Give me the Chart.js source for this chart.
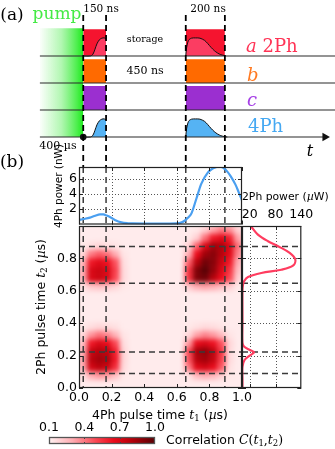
<!DOCTYPE html>
<html>
<head>
<meta charset="utf-8">
<title>Two-photon / four-photon correlation</title>
<script src="https://cdn.jsdelivr.net/npm/chart.js@4.4.1/dist/chart.umd.min.js"></script>
<style>
html, body { margin: 0; padding: 0; background: #fff; }
#fig { position: relative; width: 335px; height: 449px; overflow: hidden; background: #fff; }
#fig canvas { position: absolute; }
#heatClip { position: absolute; left: 79px; top: 226px; width: 163px; height: 162px; overflow: hidden; }
#heatCells { filter: blur(2.6px); }
.txt { position: absolute; white-space: nowrap; line-height: 1; color: #000; }
.c { transform: translate(-50%, -50%); }
.v { transform: translateY(-50%); }
.rot { transform: translate(-50%, -50%) rotate(-90deg); }
.serif { font-family: 'DejaVu Serif', serif; }
.sans { font-family: 'DejaVu Sans', sans-serif; }
.m { font-family: 'DejaVu Serif', serif; font-style: italic; }
.mr { font-family: 'DejaVu Serif', serif; }
.sub { font-family: 'DejaVu Serif', serif; font-size: 0.68em; vertical-align: -0.28em; }
</style>
</head>
<body>
<div id="fig">
  <canvas id="timing" width="335" height="167" style="left:0;top:0"></canvas>
  <div id="heatClip"><canvas id="heatCells" width="183" height="182" style="left:-10px;top:-10px"></canvas></div>
  <canvas id="heat" width="262" height="204" style="left:0;top:206px"></canvas>
  <canvas id="power4" width="262" height="84" style="left:0;top:150px"></canvas>
  <canvas id="power2" width="109" height="210" style="left:226px;top:190px"></canvas>
  <canvas id="cbar" width="130" height="40" style="left:37px;top:409px"></canvas>

  <div class="txt serif c" style="left:12px;top:14px;font-size:17px">(a)</div>
  <div class="txt serif c" style="left:57px;top:13px;font-size:17px;color:#45ea45">pump</div>
  <div class="txt serif c" style="left:101px;top:8px;font-size:10.5px">150 ns</div>
  <div class="txt serif c" style="left:208px;top:8px;font-size:10.5px">200 ns</div>
  <div class="txt serif c" style="left:145px;top:39px;font-size:9.5px">storage</div>
  <div class="txt serif c" style="left:145px;top:70px;font-size:11px">450 ns</div>
  <div class="txt serif c" style="left:58px;top:145px;font-size:11px">400 µs</div>
  <div class="txt serif v" style="left:246px;top:46px;font-size:18px;color:#ff3355"><i>a</i> 2Ph</div>
  <div class="txt serif v" style="left:247px;top:75px;font-size:18px;color:#ff7a22"><i>b</i></div>
  <div class="txt serif v" style="left:247px;top:100px;font-size:18px;color:#a640e6"><i>c</i></div>
  <div class="txt serif v" style="left:248px;top:126px;font-size:18px;color:#45a8f2">4Ph</div>
  <div class="txt serif c" style="left:310px;top:151px;font-size:16px"><i>t</i></div>

  <div class="txt serif c" style="left:12px;top:161px;font-size:17px">(b)</div>
  <div class="txt sans rot" style="left:58px;top:186px;font-size:10.5px">4Ph power (nW)</div>
  <div class="txt sans v" style="left:242px;top:197px;font-size:10.8px">2Ph power (<span class="m">µ</span>W)</div>
  <div class="txt sans rot" style="left:42px;top:307px;font-size:12.5px">2Ph pulse time <span class="m">t</span><span class="sub">2</span> (<span class="m">µ</span>s)</div>
  <div class="txt sans c" style="left:160px;top:416px;font-size:12.5px">4Ph pulse time <span class="m">t</span><span class="sub">1</span> (<span class="m">µ</span>s)</div>
  <div class="txt sans v" style="left:166px;top:441px;font-size:12.5px">Correlation <span class="m">C</span><span class="mr">(</span><span class="m">t</span><span class="sub">1</span><span class="mr">,</span><span class="m">t</span><span class="sub">2</span><span class="mr">)</span></div>
</div>

<script>
// ---------- (a) timing diagram, time in µs on the same axis as t1 ----------
const pumpStart = -0.24;
const gateStart = [0.026, 0.655];
const gateEnd = [0.166, 0.895];
const laneEnd = 1.571;
const axisEnd = 1.509;
const laneA = 3, laneB = 2, laneC = 1, lane4Ph = 0;
// pulse envelopes (height above lane baseline)
const pulse1T = [0.026, 0.07, 0.085, 0.098, 0.11, 0.125, 0.14, 0.155, 0.166];
const pulse1A = [0, 0, 0.06, 0.25, 0.45, 0.6, 0.66, 0.67, 0.63];
const pulse2T = [0.655, 0.66, 0.672, 0.69, 0.715, 0.742, 0.77, 0.79, 0.81, 0.83, 0.85, 0.87, 0.895, 0.91];
const pulse2A = [0, 0.3, 0.58, 0.66, 0.67, 0.66, 0.58, 0.46, 0.32, 0.2, 0.11, 0.05, 0.01, 0];

// ---------- (b) top: 4Ph power (nW) vs t1 ----------
const t1Power = [0, 0.03, 0.067, 0.1, 0.129, 0.15, 0.17, 0.2, 0.22, 0.26, 0.3, 0.33, 0.4, 0.5, 0.6, 0.63, 0.65, 0.67, 0.69, 0.72, 0.75, 0.79, 0.82, 0.845, 0.865, 0.885, 0.91, 0.93, 0.96, 0.98, 1.0];
const power4Ph = [0.6, 0.72, 0.9, 1.15, 1.33, 1.32, 1.16, 0.85, 0.6, 0.27, 0.16, 0.14, 0.12, 0.12, 0.15, 0.28, 0.52, 0.9, 1.45, 3.36, 5.3, 6.76, 7.3, 7.5, 7.55, 7.4, 6.9, 6.3, 5.2, 4.2, 3.15];

// ---------- (b) right: 2Ph power (µW) vs t2 ----------
const t2Power = [0.0, 0.05, 0.13, 0.173, 0.2, 0.221, 0.235, 0.256, 0.28, 0.4, 0.6, 0.638, 0.66, 0.685, 0.71, 0.73, 0.755, 0.793, 0.834, 0.875, 0.906, 0.947, 0.995, 1.0];
const power2Ph = [3, 3, 3, 8, 20, 30, 20, 6.7, 3, 3, 3, 4.3, 7, 16, 47, 93.5, 120.7, 126, 113, 86, 62.5, 39, 23.7, 22];

// ---------- (b) correlation map C(t1, t2), cells of 0.05 µs ----------
const corrBackground = 0.12;
const cellT1 = [0.025, 0.075, 0.125, 0.175, 0.225, 0.275, 0.325, 0.375, 0.425, 0.475, 0.525, 0.575, 0.625, 0.675, 0.725, 0.775, 0.825, 0.875, 0.925, 0.975];
const cellT2 = [0.975, 0.925, 0.875, 0.825, 0.775, 0.725, 0.675, 0.625, 0.575, 0.525, 0.475, 0.425, 0.375, 0.325, 0.275, 0.225, 0.175, 0.125, 0.075, 0.025];
const corrRows = [
  [0.12, 0.12, 0.12, 0.12, 0.12, 0.12, 0.12, 0.12, 0.12, 0.12, 0.12, 0.12, 0.12, 0.12, 0.13, 0.2, 0.32, 0.4, 0.36, 0.2],
  [0.12, 0.12, 0.12, 0.12, 0.12, 0.12, 0.12, 0.12, 0.12, 0.12, 0.12, 0.12, 0.12, 0.13, 0.2, 0.42, 0.62, 0.68, 0.6, 0.32],
  [0.13, 0.16, 0.18, 0.16, 0.14, 0.12, 0.12, 0.12, 0.12, 0.12, 0.12, 0.12, 0.12, 0.2, 0.45, 0.7, 0.85, 0.82, 0.7, 0.42],
  [0.18, 0.4, 0.46, 0.42, 0.3, 0.14, 0.12, 0.12, 0.12, 0.12, 0.12, 0.12, 0.12, 0.3, 0.65, 0.85, 0.9, 0.8, 0.68, 0.38],
  [0.28, 0.62, 0.68, 0.64, 0.48, 0.16, 0.12, 0.12, 0.12, 0.12, 0.12, 0.12, 0.12, 0.45, 0.8, 0.95, 0.9, 0.75, 0.62, 0.3],
  [0.3, 0.7, 0.74, 0.7, 0.52, 0.17, 0.12, 0.12, 0.12, 0.12, 0.12, 0.12, 0.12, 0.55, 0.92, 1.0, 0.88, 0.7, 0.55, 0.25],
  [0.3, 0.7, 0.74, 0.7, 0.5, 0.17, 0.12, 0.12, 0.12, 0.12, 0.12, 0.12, 0.12, 0.55, 0.92, 0.95, 0.8, 0.65, 0.5, 0.2],
  [0.15, 0.22, 0.24, 0.22, 0.18, 0.13, 0.12, 0.12, 0.12, 0.12, 0.12, 0.12, 0.12, 0.22, 0.3, 0.32, 0.3, 0.25, 0.2, 0.13],
  [0.12, 0.12, 0.12, 0.12, 0.12, 0.12, 0.12, 0.12, 0.12, 0.12, 0.12, 0.12, 0.12, 0.12, 0.12, 0.12, 0.12, 0.12, 0.12, 0.12],
  [0.12, 0.12, 0.12, 0.12, 0.12, 0.12, 0.12, 0.12, 0.12, 0.12, 0.12, 0.12, 0.12, 0.12, 0.12, 0.12, 0.12, 0.12, 0.12, 0.12],
  [0.12, 0.12, 0.12, 0.12, 0.12, 0.12, 0.12, 0.12, 0.12, 0.12, 0.12, 0.12, 0.12, 0.12, 0.12, 0.12, 0.12, 0.12, 0.12, 0.12],
  [0.12, 0.12, 0.12, 0.12, 0.12, 0.12, 0.12, 0.12, 0.12, 0.12, 0.12, 0.12, 0.12, 0.12, 0.12, 0.12, 0.12, 0.12, 0.12, 0.12],
  [0.13, 0.16, 0.18, 0.17, 0.15, 0.12, 0.12, 0.12, 0.12, 0.12, 0.12, 0.12, 0.12, 0.13, 0.15, 0.17, 0.16, 0.14, 0.12, 0.12],
  [0.18, 0.35, 0.42, 0.38, 0.28, 0.14, 0.12, 0.12, 0.12, 0.12, 0.12, 0.12, 0.12, 0.18, 0.32, 0.38, 0.34, 0.26, 0.14, 0.12],
  [0.25, 0.62, 0.7, 0.66, 0.5, 0.16, 0.12, 0.12, 0.12, 0.12, 0.12, 0.12, 0.12, 0.34, 0.66, 0.7, 0.64, 0.48, 0.18, 0.12],
  [0.3, 0.75, 0.8, 0.78, 0.6, 0.18, 0.12, 0.12, 0.12, 0.12, 0.12, 0.12, 0.12, 0.5, 0.84, 0.88, 0.78, 0.54, 0.17, 0.12],
  [0.32, 0.78, 0.84, 0.82, 0.62, 0.18, 0.12, 0.12, 0.12, 0.12, 0.12, 0.12, 0.12, 0.48, 0.8, 0.84, 0.76, 0.52, 0.17, 0.12],
  [0.3, 0.72, 0.78, 0.74, 0.56, 0.17, 0.12, 0.12, 0.12, 0.12, 0.12, 0.12, 0.12, 0.4, 0.68, 0.72, 0.66, 0.46, 0.15, 0.12],
  [0.16, 0.3, 0.34, 0.32, 0.24, 0.13, 0.12, 0.12, 0.12, 0.12, 0.12, 0.12, 0.12, 0.15, 0.26, 0.3, 0.27, 0.2, 0.13, 0.12],
  [0.12, 0.12, 0.12, 0.12, 0.12, 0.12, 0.12, 0.12, 0.12, 0.12, 0.12, 0.12, 0.12, 0.12, 0.12, 0.12, 0.12, 0.12, 0.12, 0.12]
];

// marker lines and ticks
const markT1 = [gateStart[0], gateEnd[0], gateStart[1], gateEnd[1]];
const markT2 = [0.874, 0.646, 0.222, 0.089];
const timeTicks = [0, 0.2, 0.4, 0.6, 0.8, 1.0];
const t2Labels = [0, 0.2, 0.4, 0.6, 0.8];
const power4Ticks = [2, 4, 6];
const power2Ticks = [20, 80, 140];
const power2Grid = [20, 80];
const corrTicks = [0.1, 0.4, 0.7, 1.0];

// colour map for C(t1,t2)
const cmapStops = [
  [0.1, [255, 242, 242]],
  [0.3, [255, 172, 178]],
  [0.5, [250, 70, 82]],
  [0.65, [236, 10, 26]],
  [0.8, [182, 0, 10]],
  [1.0, [88, 0, 4]]
];

function corrColor(v) {
  if (v <= cmapStops[0][0]) return 'rgb(' + cmapStops[0][1].join(',') + ')';
  for (let i = 1; i < cmapStops.length; i++) {
    const [v1, c1] = cmapStops[i];
    const [v0, c0] = cmapStops[i - 1];
    if (v <= v1) {
      const f = (v - v0) / (v1 - v0);
      return 'rgb(' + c0.map((c, k) => Math.round(c + (c1[k] - c) * f)).join(',') + ')';
    }
  }
  return 'rgb(' + cmapStops[cmapStops.length - 1][1].join(',') + ')';
}

Chart.defaults.font.family = "'DejaVu Sans', sans-serif";
Chart.defaults.font.size = 12.5;
Chart.defaults.color = '#000';
Chart.defaults.animation = false;
Chart.defaults.responsive = false;
Chart.defaults.devicePixelRatio = 1;
Chart.defaults.events = [];
Chart.defaults.layout.autoPadding = false;
Chart.defaults.plugins.legend.display = false;
Chart.defaults.plugins.tooltip.enabled = false;
Chart.defaults.elements.point.radius = 0;

// ---- drawing helpers ----
function dashLine(ctx, x0, y0, x1, y1, color, width, dash) {
  ctx.save();
  ctx.strokeStyle = color;
  ctx.lineWidth = width;
  ctx.setLineDash(dash);
  ctx.beginPath();
  ctx.moveTo(x0, y0);
  ctx.lineTo(x1, y1);
  ctx.stroke();
  ctx.restore();
}

function frame(chart, color, width) {
  const { ctx, chartArea: a } = chart;
  ctx.save();
  ctx.strokeStyle = color || '#222';
  ctx.lineWidth = width || 1.2;
  ctx.strokeRect(a.left + 0.5, a.top + 0.5, a.width - 1, a.height - 1);
  ctx.restore();
}

function inwardTicks(chart, xVals, yVals, len) {
  const { ctx, chartArea: a, scales: { x, y } } = chart;
  ctx.save();
  ctx.strokeStyle = '#222';
  ctx.lineWidth = 1;
  ctx.beginPath();
  xVals.forEach(v => {
    const px = Math.round(x.getPixelForValue(v)) + 0.5;
    ctx.moveTo(px, a.bottom); ctx.lineTo(px, a.bottom - len);
    ctx.moveTo(px, a.top); ctx.lineTo(px, a.top + len);
  });
  yVals.forEach(v => {
    const py = Math.round(y.getPixelForValue(v)) + 0.5;
    ctx.moveTo(a.left, py); ctx.lineTo(a.left + len, py);
    ctx.moveTo(a.right, py); ctx.lineTo(a.right - len, py);
  });
  ctx.stroke();
  ctx.restore();
}

function dotGrid(chart, xVals, yVals) {
  const { ctx, chartArea: a, scales: { x, y } } = chart;
  ctx.save();
  ctx.strokeStyle = '#555';
  ctx.lineWidth = 1;
  ctx.setLineDash([1, 2]);
  ctx.beginPath();
  xVals.forEach(v => {
    const px = Math.round(x.getPixelForValue(v)) + 0.5;
    ctx.moveTo(px, a.top); ctx.lineTo(px, a.bottom);
  });
  yVals.forEach(v => {
    const py = Math.round(y.getPixelForValue(v)) + 0.5;
    ctx.moveTo(a.left, py); ctx.lineTo(a.right, py);
  });
  ctx.stroke();
  ctx.restore();
}

function markLines(chart, vertical, horizontal) {
  const { ctx, chartArea: a, scales: { x, y } } = chart;
  vertical.forEach(t => {
    const px = x.getPixelForValue(t);
    dashLine(ctx, px, a.top, px, a.bottom, '#3a3a3a', 1.5, [6, 4]);
  });
  horizontal.forEach(t => {
    const py = y.getPixelForValue(t);
    dashLine(ctx, a.left, py, a.right, py, '#3a3a3a', 1.5, [6, 4]);
  });
}

const gridT = timeTicks.filter(v => v > 0 && v < 1);
const fixedTicks = list => scale => { scale.ticks = list.map(v => ({ value: v })); };

// ---------- (a) ----------
function pumpFill(context) {
  const chart = context.chart;
  if (!chart.chartArea) return 'rgba(0,0,0,0)';
  const xs = chart.scales.x;
  const g = chart.ctx.createLinearGradient(xs.getPixelForValue(pumpStart), 0, xs.getPixelForValue(gateStart[0]), 0);
  g.addColorStop(0, 'rgba(60,235,60,0.02)');
  g.addColorStop(0.5, 'rgba(60,235,60,0.4)');
  g.addColorStop(1, 'rgba(30,235,30,1)');
  return g;
}

function box(t0, t1, lane, h, color) {
  return {
    data: [{ x: t0, y: lane + h }, { x: t1, y: lane + h }],
    fill: { target: { value: lane } }, backgroundColor: color, borderWidth: 0, order: 5
  };
}

function pulse(ts, amps, lane, color, tMax) {
  const pts = ts.map((t, i) => ({ x: t, y: lane + amps[i] })).filter(p => p.x <= tMax);
  return {
    data: pts, fill: { target: { value: lane } }, backgroundColor: color,
    borderColor: '#111', borderWidth: 1, tension: 0.3, order: 4
  };
}

function laneLine(t0, t1, lane) {
  return { data: [{ x: t0, y: lane }, { x: t1, y: lane }], borderColor: '#2a2a2a', borderWidth: 1.2, fill: false, order: 3 };
}

const timingSets = [
  { data: [{ x: pumpStart, y: 4.03 }, { x: gateStart[0], y: 4.03 }], fill: { target: { value: lane4Ph } },
    backgroundColor: pumpFill, borderWidth: 0, order: 6 }
];
gateStart.forEach((g, k) => {
  timingSets.push(box(g, gateEnd[k], laneA, 0.99, '#f5142f'));
  timingSets.push(box(g, gateEnd[k], laneB, 0.88, '#ff6a00'));
  timingSets.push(box(g, gateEnd[k], laneC, 0.89, '#9b2fd0'));
});
timingSets.push(pulse(pulse1T, pulse1A, laneA, '#fb3d62', gateEnd[0]));
timingSets.push(pulse(pulse2T, pulse2A, laneA, '#fb3d62', gateEnd[1]));
timingSets.push(pulse(pulse1T, pulse1A, lane4Ph, '#55b3f4', gateEnd[0]));
timingSets.push(pulse(pulse2T, pulse2A, lane4Ph, '#55b3f4', 1));
[laneA, laneB, laneC].forEach(l => timingSets.push(laneLine(pumpStart, laneEnd, l)));
timingSets.push(laneLine(pumpStart, axisEnd, lane4Ph));
timingSets.push({ data: [{ x: axisEnd, y: lane4Ph }], showLine: false, pointStyle: 'triangle', pointRotation: 90,
  pointRadius: 5, pointBackgroundColor: '#111', pointBorderWidth: 0, order: 1 });
timingSets.push({ data: [{ x: gateStart[0], y: lane4Ph }], showLine: false, pointRadius: 3.3,
  pointBackgroundColor: '#111', pointBorderWidth: 0, order: 1 });

new Chart(document.getElementById('timing'), {
  type: 'line',
  data: { datasets: timingSets },
  options: {
    layout: { padding: 0 },
    scales: {
      x: { type: 'linear', min: -0.4847, max: 1.5706, display: false },
      y: { type: 'linear', min: -1.111, max: 5.074, display: false }
    }
  },
  plugins: [{
    id: 'gateMarks',
    afterDatasetsDraw(chart) {
      const { ctx, scales: { x, y } } = chart;
      const top = y.getPixelForValue(4.52);
      markT1.forEach(t => {
        const px = x.getPixelForValue(t);
        dashLine(ctx, px, top, px, chart.height, '#000', 1.8, [6, 4]);
      });
    }
  }]
});

// ---------- (b) correlation map: cells (softened canvas) ----------
const heatCells = [];
corrRows.forEach((row, j) => row.forEach((v, i) => heatCells.push({ x: cellT1[i], y: cellT2[j], v: v })));

function cellRadius(chart) {
  if (!chart.chartArea) return 5;
  const xs = chart.scales.x, ys = chart.scales.y;
  const w = Math.abs(xs.getPixelForValue(cellT1[1]) - xs.getPixelForValue(cellT1[0]));
  const h = Math.abs(ys.getPixelForValue(cellT2[0]) - ys.getPixelForValue(cellT2[1]));
  return Math.max(w, h) * Math.SQRT1_2 + 0.3;
}

new Chart(document.getElementById('heatCells'), {
  type: 'scatter',
  data: {
    datasets: [{
      data: heatCells,
      pointStyle: 'rect',
      pointRadius: ctx => cellRadius(ctx.chart),
      pointBackgroundColor: ctx => ctx.raw ? corrColor(ctx.raw.v) : '#fff',
      pointBorderWidth: 0,
      clip: false
    }]
  },
  options: {
    layout: { padding: 0 },
    scales: {
      // 10 px margin around the plot area so the softening does not fade the edges
      x: { type: 'linear', min: -10 / 163, max: 1 + 10 / 163, display: false },
      y: { type: 'linear', min: -10 / 162, max: 1 + 10 / 162, display: false }
    }
  },
  plugins: [{
    id: 'heatBackground',
    beforeDatasetsDraw(chart) {
      chart.ctx.save();
      chart.ctx.fillStyle = corrColor(corrBackground);
      chart.ctx.fillRect(0, 0, chart.width, chart.height);
      chart.ctx.restore();
    }
  }]
});

// ---------- (b) correlation map: axes ----------
new Chart(document.getElementById('heat'), {
  type: 'scatter',
  data: { datasets: [] },
  options: {
    layout: { padding: { left: 0, right: 20, top: 20, bottom: 0 } },
    scales: {
      x: {
        type: 'linear', min: 0, max: 1,
        grid: { display: false, drawTicks: false }, border: { display: false },
        afterFit: s => { s.height = 22; },
        afterBuildTicks: fixedTicks(timeTicks),
        ticks: { padding: 2.5, maxRotation: 0, autoSkip: false, callback: v => v.toFixed(1) }
      },
      y: {
        type: 'linear', min: 0, max: 1,
        grid: { display: false, drawTicks: false }, border: { display: false },
        afterFit: s => { s.width = 79; },
        afterBuildTicks: fixedTicks(t2Labels),
        ticks: { padding: 2, autoSkip: false, callback: v => v.toFixed(1) }
      }
    }
  },
  plugins: [{
    id: 'heatDecor',
    afterDraw(chart) {
      markLines(chart, markT1, markT2);
      inwardTicks(chart, timeTicks, timeTicks, 4);
      frame(chart);
    }
  }]
});

// ---------- (b) top: 4Ph power ----------
new Chart(document.getElementById('power4'), {
  type: 'line',
  data: {
    datasets: [{
      data: t1Power.map((t, i) => ({ x: t, y: power4Ph[i] })),
      borderColor: '#4a9ff0', borderWidth: 2.2, fill: false,
      cubicInterpolationMode: 'monotone'
    }]
  },
  options: {
    layout: { padding: { left: 0, right: 20, top: 17, bottom: 8 } },
    scales: {
      x: { type: 'linear', min: 0, max: 1, display: false },
      y: {
        type: 'linear', min: 0, max: 7.5,
        grid: { display: false, drawTicks: false }, border: { display: false },
        afterFit: s => { s.width = 79; },
        afterBuildTicks: fixedTicks(power4Ticks),
        ticks: { padding: 2, autoSkip: false, callback: v => String(v) }
      }
    }
  },
  plugins: [{
    id: 'power4Decor',
    beforeDatasetsDraw(chart) {
      dotGrid(chart, gridT, power4Ticks);
      markLines(chart, markT1, []);
    },
    afterDatasetsDraw(chart) {
      inwardTicks(chart, timeTicks, power4Ticks, 4);
      frame(chart);
    }
  }]
});

// ---------- (b) right: 2Ph power ----------
new Chart(document.getElementById('power2'), {
  type: 'line',
  data: {
    datasets: [{
      data: t2Power.map((t, i) => ({ x: power2Ph[i], y: t })),
      borderColor: '#ff3c5f', borderWidth: 2.2, fill: false, tension: 0.35
    }]
  },
  options: {
    layout: { padding: { left: 16, right: 33.7, top: 0, bottom: 12 } },
    scales: {
      x: {
        type: 'linear', position: 'top', min: 2, max: 140,
        grid: { display: false, drawTicks: false }, border: { display: false },
        afterFit: s => { s.height = 36; },
        afterBuildTicks: fixedTicks(power2Ticks),
        ticks: { padding: 3.5, maxRotation: 0, autoSkip: false, callback: v => String(v) }
      },
      y: { type: 'linear', min: 0, max: 1, display: false }
    }
  },
  plugins: [{
    id: 'power2Decor',
    beforeDatasetsDraw(chart) {
      dotGrid(chart, power2Grid, gridT);
      markLines(chart, [], markT2);
    },
    afterDatasetsDraw(chart) {
      inwardTicks(chart, power2Grid, timeTicks, 4);
      frame(chart);
    }
  }]
});

// ---------- colour bar ----------
function cbarFill(context) {
  const chart = context.chart;
  if (!chart.chartArea) return 'rgba(0,0,0,0)';
  const xs = chart.scales.x;
  const lo = corrTicks[0], hi = corrTicks[corrTicks.length - 1];
  const g = chart.ctx.createLinearGradient(xs.getPixelForValue(lo), 0, xs.getPixelForValue(hi), 0);
  cmapStops.forEach(([v, c]) => g.addColorStop((v - lo) / (hi - lo), 'rgb(' + c.join(',') + ')'));
  return g;
}

new Chart(document.getElementById('cbar'), {
  type: 'line',
  data: {
    datasets: [{
      data: [{ x: corrTicks[0], y: 1 }, { x: corrTicks[corrTicks.length - 1], y: 1 }],
      fill: { target: { value: 0 } }, backgroundColor: cbarFill, borderWidth: 0
    }]
  },
  options: {
    layout: { padding: { left: 12, right: 12, top: 9, bottom: 5 } },
    scales: {
      x: {
        type: 'linear', position: 'top', min: corrTicks[0], max: corrTicks[corrTicks.length - 1],
        grid: { display: false, drawTicks: false }, border: { display: false },
        afterFit: s => { s.height = 19; },
        afterBuildTicks: fixedTicks(corrTicks),
        ticks: { padding: 1.5, maxRotation: 0, autoSkip: false, callback: v => v.toFixed(1) }
      },
      y: { type: 'linear', min: 0, max: 1, display: false }
    }
  },
  plugins: [{
    id: 'cbarDecor',
    afterDatasetsDraw(chart) {
      const { ctx, chartArea: a, scales: { x } } = chart;
      ctx.save();
      ctx.strokeStyle = '#444';
      ctx.lineWidth = 1;
      ctx.beginPath();
      corrTicks.slice(1, -1).forEach(v => {
        const px = Math.round(x.getPixelForValue(v)) + 0.5;
        ctx.moveTo(px, a.top); ctx.lineTo(px, a.top + 2);
        ctx.moveTo(px, a.bottom); ctx.lineTo(px, a.bottom - 2);
      });
      ctx.stroke();
      ctx.restore();
      frame(chart, '#555', 1.3);
    }
  }]
});
</script>
</body>
</html>
